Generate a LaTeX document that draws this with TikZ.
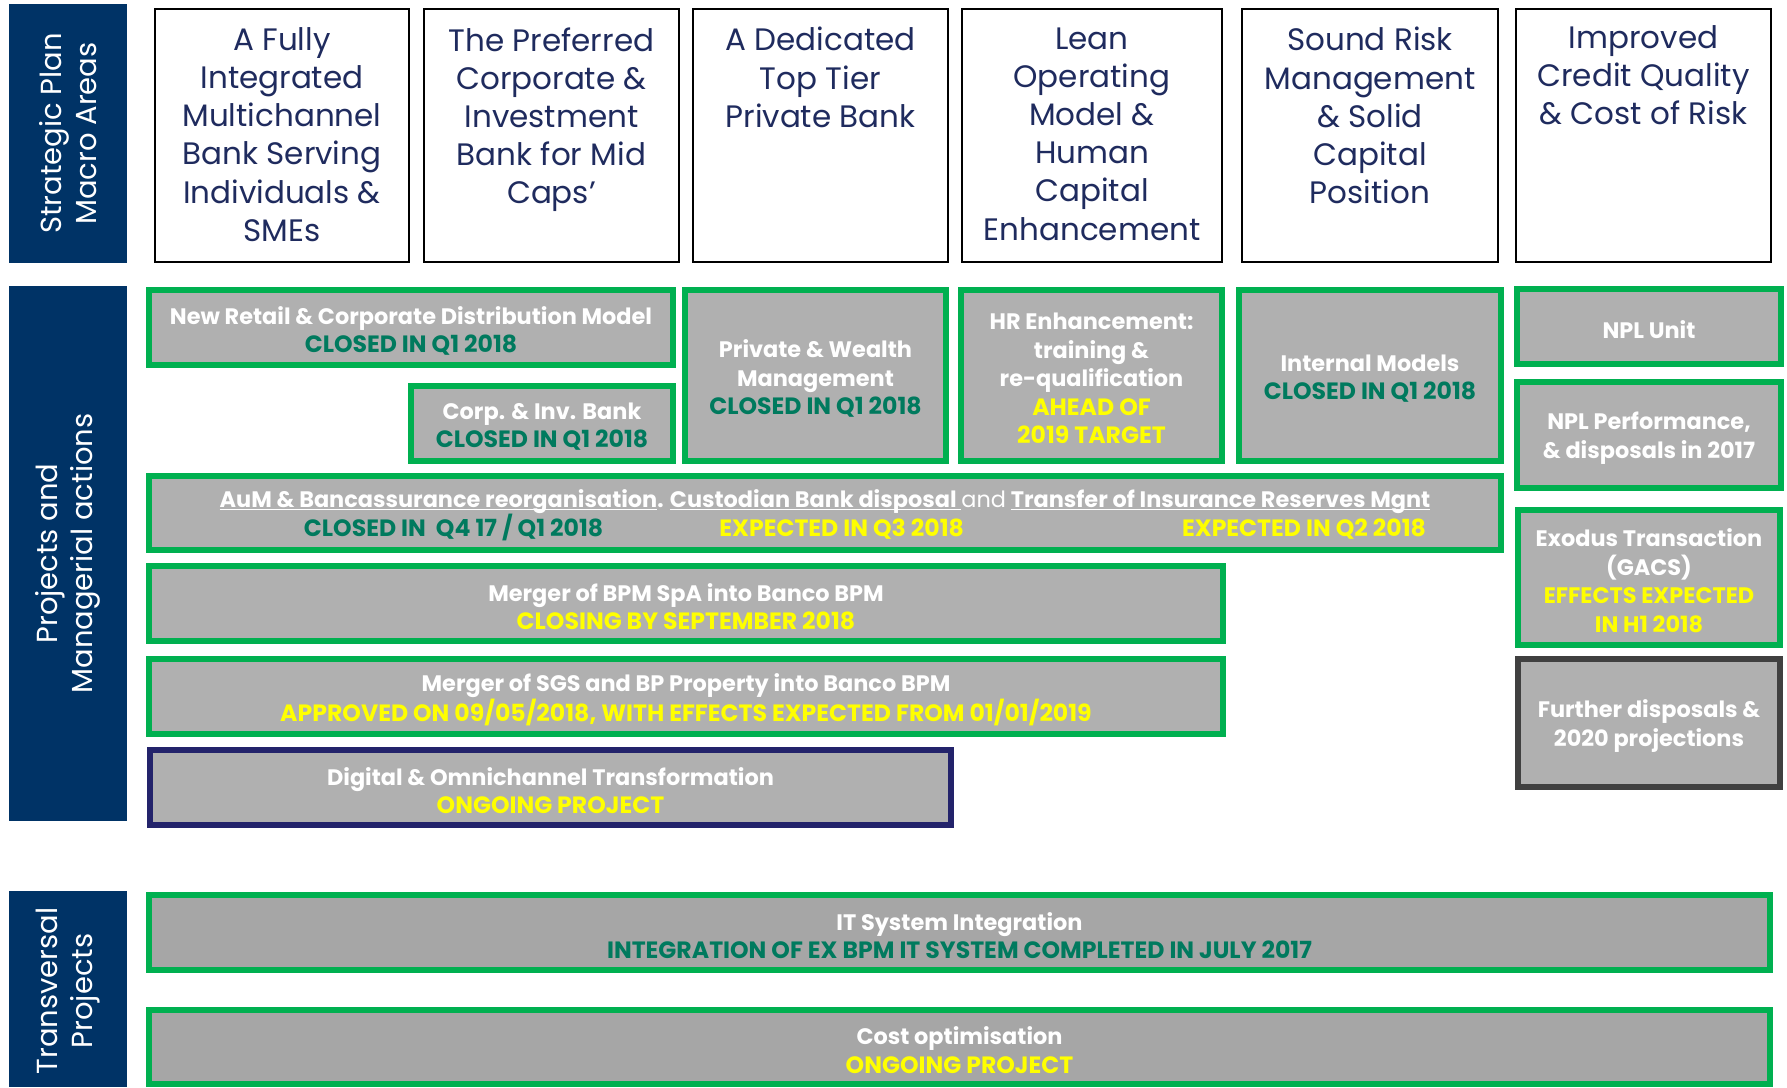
\documentclass[tikz,border=0pt]{standalone}
\usepackage{fontspec}
\setmainfont{Poppins}
\definecolor{barnavy}{HTML}{003366}
\definecolor{tnavy}{HTML}{1F2B5E}
\definecolor{ggreen}{HTML}{00B050}
\definecolor{dgreen}{HTML}{007A5E}
\definecolor{ylw}{HTML}{FFFF00}
\definecolor{gfill}{HTML}{B0B0B0}
\definecolor{gfilltwo}{HTML}{A6A6A6}
\definecolor{dnavy}{HTML}{23236B}
\definecolor{dgray}{HTML}{404040}
% box node (empty) plus centred text node
\newcommand{\bx}[8]{\node[#6, minimum width={(#4-#2-#7)*0.5pt}, minimum height={(#5-#3-#7)*0.5pt}] (#1) at ({(#2+#4)/2},{(#3+#5)/2}) {};
  \node[boxtext] (#1t) at ([yshift=-1.6pt]#1.center) {#8};}
\newcommand{\dg}[1]{{\fontsize{11.8}{14.25}\selectfont\color{dgreen}#1}}
\newcommand{\yl}[1]{{\fontsize{11.8}{14.25}\selectfont\color{ylw}#1}}
\newcommand{\ylr}[1]{{\color{ylw}#1}}
\newsavebox{\ulbox}
\newcommand{\ulx}[1]{\sbox{\ulbox}{#1}\rlap{\rule[-1.5pt]{\wd\ulbox}{0.75pt}}\usebox{\ulbox}}
\begin{document}
\begin{tikzpicture}[x=0.5pt,y=-0.5pt,
  bar/.style={fill=barnavy, draw=none, inner sep=0pt},
  bartext/.style={rotate=90, align=center, text=white, inner sep=0pt, font=\fontsize{14.5}{17.6}\selectfont},
  topbox/.style={draw=black, fill=white, line width=1.1pt, inner sep=0pt},
  toptext/.style={anchor=north, align=center, text=tnavy, inner sep=0pt, font=\fontsize{15.5}{19.1}\selectfont},
  gbox/.style={fill=gfill, draw=ggreen, line width=3.2pt, inner sep=0pt},
  gboxlow/.style={gbox, fill=gfilltwo},
  nbox/.style={gbox, draw=dnavy},
  kbox/.style={gbox, draw=dgray},
  boxtext/.style={inner sep=0pt, text=white, align=center, font=\bfseries\fontsize{11.2}{14.25}\selectfont},
  ltext/.style={anchor=base, inner sep=0pt, text=white, font=\bfseries\fontsize{11.2}{14.25}\selectfont}
]
\useasboundingbox (0,0) rectangle (1787,1087);
% side bars
\node[bar, minimum width=59pt, minimum height=129.5pt] (B1) at (68,133.5) {};
\node[bar, minimum width=59pt, minimum height=267.5pt] (B2) at (68,553.5) {};
\node[bar, minimum width=59pt, minimum height=98pt] (B3) at (68,989) {};
\node[bartext] (B1t) at (B1.center) {Strategic Plan\\Macro Areas};
\node[bartext] (B2t) at (B2.center) {Projects and\\Managerial actions};
\node[bartext] (B3t) at (68,991) {Transversal\\Projects};
% top boxes
\node[topbox, minimum width={(410-154-2.2)*0.5pt}, minimum height={(263-8-2.2)*0.5pt}] (T1) at (282,135.5) {};
\node[topbox, minimum width={(680-423-2.2)*0.5pt}, minimum height={(263-8-2.2)*0.5pt}] (T2) at (551.5,135.5) {};
\node[topbox, minimum width={(949-692-2.2)*0.5pt}, minimum height={(263-8-2.2)*0.5pt}] (T3) at (820.5,135.5) {};
\node[topbox, minimum width={(1223-961-2.2)*0.5pt}, minimum height={(263-8-2.2)*0.5pt}] (T4) at (1092,135.5) {};
\node[topbox, minimum width={(1499-1241-2.2)*0.5pt}, minimum height={(263-8-2.2)*0.5pt}] (T5) at (1370,135.5) {};
\node[topbox, minimum width={(1772-1515-2.2)*0.5pt}, minimum height={(263-8-2.2)*0.5pt}] (T6) at (1643.5,135.5) {};
\node[toptext] (T1t) at (282,27) {A Fully\\Integrated\\Multichannel\\Bank Serving\\Individuals \&\\SMEs};
\node[toptext] (T2t) at (551.5,27) {The Preferred\\Corporate \&\\Investment\\Bank for Mid\\Caps’};
\node[toptext] (T3t) at (820.5,27) {A Dedicated\\Top Tier\\Private Bank};
\node[toptext] (T4t) at (1092,27) {Lean\\Operating\\Model \&\\Human\\Capital\\Enhancement};
\node[toptext] (T5t) at (1370,27) {Sound Risk\\Management\\\& Solid\\Capital\\Position};
\node[toptext] (T6t) at (1643.5,25) {Improved\\Credit Quality\\\& Cost of Risk};
% project boxes
\bx{NR}{146}{287}{676}{368}{gbox}{6.4}{New Retail \& Corporate Distribution Model\\\dg{CLOSED IN Q1 2018}}
\bx{CI}{408}{383}{676}{464}{gbox}{6.4}{Corp. \& Inv. Bank\\\dg{CLOSED IN Q1 2018}}
\bx{PW}{682}{287}{949}{464}{gbox}{6.4}{Private \& Wealth\\Management\\\dg{CLOSED IN Q1 2018}}
\bx{HR}{958}{287}{1225}{464}{gbox}{6.4}{HR Enhancement:\\training \&\\re-qualification\\\yl{AHEAD OF}\\\yl{2019 TARGET}}
\bx{IM}{1236}{287}{1504}{464}{gbox}{6.4}{Internal Models\\\dg{CLOSED IN Q1 2018}}
\bx{NU}{1514}{286}{1784}{367}{gbox}{6.4}{NPL Unit}
\bx{NP}{1514}{379}{1784}{491}{gbox}{6.4}{NPL Performance,\\\& disposals in 2017}
\node[gbox, minimum width={(1504-146-6.4)*0.5pt}, minimum height={(553-473-6.4)*0.5pt}] (AU) at (825,513) {};
\node[ltext] (AU1) at (825,507) {\ulx{AuM \& Bancassurance reorganisation}. \ulx{Custodian Bank disposal\ }{\mdseries and} \ulx{Transfer of Insurance Reserves Mgnt}};
\node[ltext, font=\bfseries\fontsize{11.8}{14.25}\selectfont, text=dgreen] (AU2) at (453.6,536) {CLOSED IN\ \ Q4 17 / Q1 2018};
\node[ltext, font=\bfseries\fontsize{11.8}{14.25}\selectfont, text=ylw] (AU3) at (841.7,536) {EXPECTED IN Q3 2018};
\node[ltext, font=\bfseries\fontsize{11.8}{14.25}\selectfont, text=ylw] (AU4) at (1304,536) {EXPECTED IN Q2 2018};
\bx{EX}{1515}{507}{1783}{648}{gbox}{6.4}{Exodus Transaction\\(GACS)\\\ylr{EFFECTS EXPECTED}\\\ylr{IN H1 2018}}
\bx{MB}{146}{563}{1226}{644}{gbox}{6.4}{Merger of BPM SpA into Banco BPM\\\yl{CLOSING BY SEPTEMBER 2018}}
\bx{MS}{146}{656}{1226}{737}{gbox}{6.4}{Merger of SGS and BP Property into Banco BPM\\\yl{APPROVED ON 09/05/2018, WITH EFFECTS EXPECTED FROM 01/01/2019}}
\bx{DG}{147}{747}{954}{828}{nbox}{6.4}{Digital \& Omnichannel Transformation\\\yl{ONGOING PROJECT}}
\bx{FD}{1515}{656}{1783}{790}{kbox}{6.4}{Further disposals \&\\2020 projections}
\bx{IT}{146}{892}{1773}{973}{gboxlow}{6.4}{IT System Integration\\\dg{INTEGRATION OF EX BPM IT SYSTEM COMPLETED IN JULY 2017}}
\bx{CO}{146}{1007}{1773}{1087}{gboxlow}{6.4}{Cost optimisation\\\yl{ONGOING PROJECT}}
\end{tikzpicture}
\end{document}
